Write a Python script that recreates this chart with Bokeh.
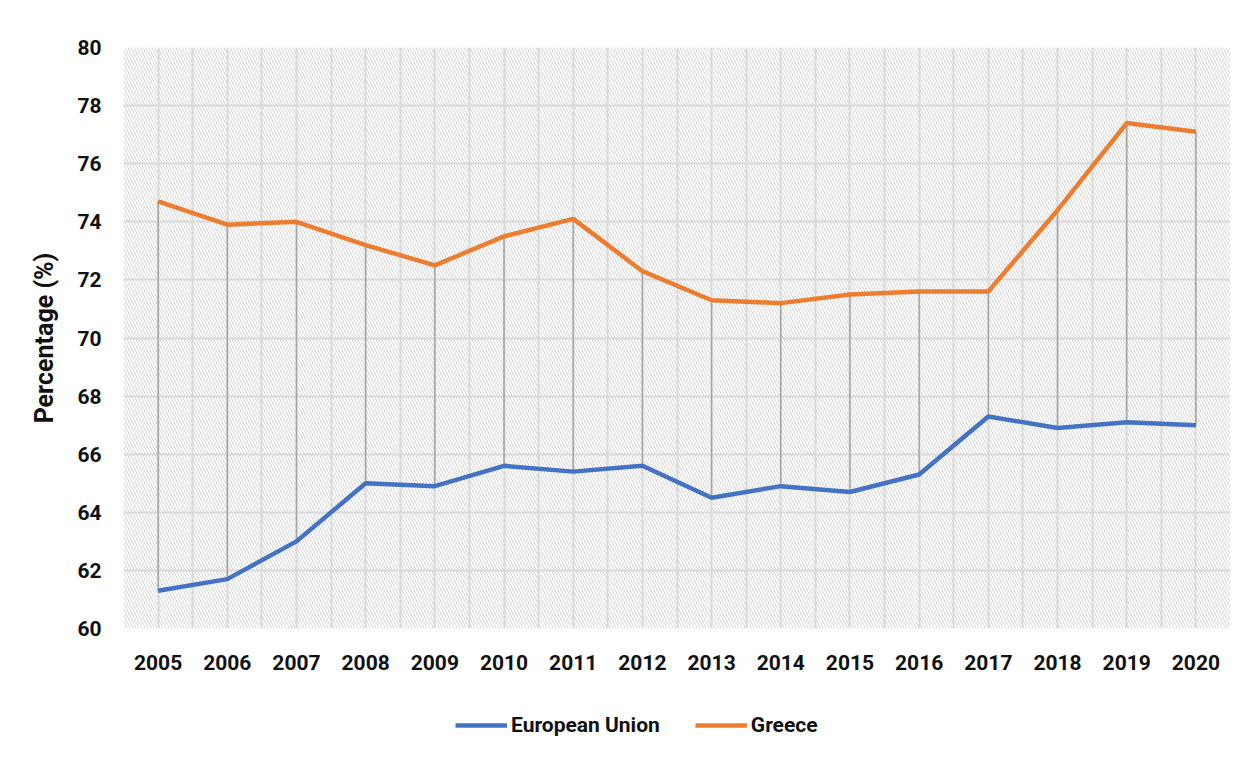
from bokeh.plotting import figure
from bokeh.layouts import column
from bokeh.models import FixedTicker, Range1d, Legend, LegendItem
from bokeh.embed import file_html
from bokeh.resources import INLINE

years = ["2005", "2006", "2007", "2008", "2009", "2010", "2011", "2012",
         "2013", "2014", "2015", "2016", "2017", "2018", "2019", "2020"]
eu = [61.3, 61.7, 63.0, 65.0, 64.9, 65.6, 65.4, 65.6,
      64.5, 64.9, 64.7, 65.3, 67.3, 66.9, 67.1, 67.0]
greece = [74.7, 73.9, 74.0, 73.2, 72.5, 73.5, 74.1, 72.3,
          71.3, 71.2, 71.5, 71.6, 71.6, 74.4, 77.4, 77.1]
series_names = ["European Union", "Greece"]
series_colors = ["#4472c4", "#ed7d31"]
y_ticks = list(range(60, 81, 2))

FONT = "Roboto"
idx = list(range(len(years)))

p = figure(frame_width=1107, frame_height=581, output_backend="svg", toolbar_location=None,
           x_range=Range1d(-0.5, len(years) - 0.5), y_range=Range1d(60, 80),
           min_border_left=123, min_border_right=10, min_border_top=47,
           min_border_bottom=60)
p.outline_line_color = None
p.background_fill_color = "white"

# hatched plot area
p.quad(left=[-0.5], right=[len(years) - 0.5], bottom=[60], top=[80],
       fill_color="white", line_color=None,
       hatch_pattern="left_diagonal_line", hatch_color="#d4d4d4",
       hatch_scale=6, hatch_weight=1, level="underlay")

# grids
p.xgrid.ticker = FixedTicker(ticks=[i / 2 - 0.5 for i in range(2 * len(years) + 1)])
p.ygrid.ticker = FixedTicker(ticks=y_ticks)
for g in (p.xgrid, p.ygrid):
    g.grid_line_color = "#d9d9d9"
    g.grid_line_width = 2
    g.level = "underlay"

# axes
p.xaxis.ticker = FixedTicker(ticks=idx)
p.xaxis.major_label_overrides = {i: y for i, y in zip(idx, years)}
p.yaxis.ticker = FixedTicker(ticks=y_ticks)
for ax in (p.xaxis, p.yaxis):
    ax.axis_line_color = None
    ax.major_tick_line_color = None
    ax.minor_tick_line_color = None
    ax.major_label_text_font = FONT
    ax.major_label_text_font_style = "bold"
    ax.major_label_text_font_size = "21px"
    ax.major_label_text_color = "#111111"
p.xaxis.major_label_standoff = 20
p.yaxis.major_label_standoff = 16
p.yaxis.axis_label = "Percentage (%)"
p.yaxis.axis_label_text_font = FONT
p.yaxis.axis_label_text_font_style = "bold"
p.yaxis.axis_label_text_font_size = "25px"
p.yaxis.axis_label_text_color = "#111111"
p.yaxis.axis_label_standoff = 15

# drop lines
p.segment(x0=idx, y0=eu, x1=idx, y1=greece, line_color="#a5a5a5", line_width=1.5)

p.line(idx, eu, line_color=series_colors[0], line_width=4.5)
p.line(idx, greece, line_color=series_colors[1], line_width=4.5)

# legend strip below the chart (its lines lie outside its range, only the keys show)
p2 = figure(width=1240, height=60, output_backend="svg", toolbar_location=None,
            x_range=Range1d(0, 1), y_range=Range1d(0, 1), min_border=0)
p2.axis.visible = False
p2.grid.visible = False
p2.outline_line_color = None
keys = [p2.line(idx, vals, line_color=c, line_width=4.5)
        for vals, c in zip([eu, greece], series_colors)]
legend = Legend(items=[LegendItem(label=n, renderers=[r]) for n, r in zip(series_names, keys)],
                orientation="horizontal", location=(332, 11),
                glyph_width=52, glyph_height=20, label_standoff=4, spacing=35,
                label_text_font=FONT, label_text_font_style="bold",
                label_text_font_size="21px", label_text_color="#111111",
                border_line_color=None, background_fill_alpha=0,
                padding=0, margin=0)
p2.add_layout(legend)

open("out.html", "w").write(file_html(column(p, p2, spacing=0), INLINE))
